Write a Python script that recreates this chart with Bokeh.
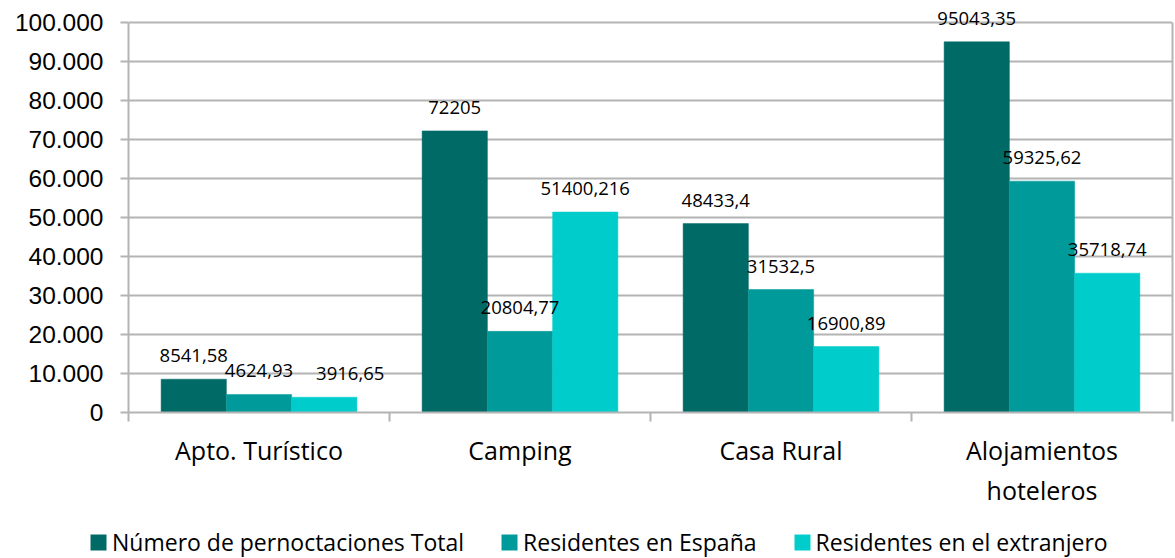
from bokeh.plotting import figure
from bokeh.models import (ColumnDataSource, FixedTicker, LabelSet, Legend,
                          LegendItem, Range1d, LinearAxis)
from bokeh.core.properties import value
from bokeh.embed import file_html
from bokeh.resources import INLINE

categories = ["Apto. Turístico", "Camping", "Casa Rural", "Alojamientos\nhoteleros"]
series_names = ["Número de pernoctaciones Total", "Residentes en España",
                "Residentes en el extranjero"]
total = [8541.58, 72205, 48433.4, 95043.35]
espana = [4624.93, 20804.77, 31532.5, 59325.62]
extranjero = [3916.65, 51400.216, 16900.89, 35718.74]
y_ticks = list(range(0, 100001, 10000))
y_max = 100000

colors = ["#006A66", "#009A9A", "#00CCCC"]
series_values = [total, espana, extranjero]
offsets = [-0.25, 0.0, 0.25]
# horizontal nudges (px) of data labels to avoid overlaps, as in the original
label_nudge = [[0, 0, 0, 0], [0, 0, 0, 0], [26, 0, 0, 0]]

GRID = "#B4B4B4"
W = 1174
FRAME_H = 412           # frame spans from page top to the zero line
PLOT_H = 390            # pixels between 0 and 100.000

p = figure(frame_width=1044, frame_height=FRAME_H, output_backend="svg",
           toolbar_location=None,
           x_range=Range1d(0, 4), y_range=Range1d(0, y_max * FRAME_H / PLOT_H),
           min_border_left=128, min_border_right=2, min_border_top=0,
           min_border_bottom=108)
p.outline_line_color = None
p.background_fill_color = "white"
p.border_fill_color = "white"

def fmt(v):
    return str(v).replace(".", ",")

renderers = []
for vals, col, off, nudge in zip(series_values, colors, offsets, label_nudge):
    xs = [i + 0.5 + off for i in range(len(categories))]
    src = ColumnDataSource(dict(x=xs, top=vals, text=[fmt(v) for v in vals], dx=nudge))
    r = p.vbar(x="x", top="top", bottom=0, width=0.25, source=src,
               fill_color=col, line_color=col, line_width=0.5)
    renderers.append(r)
    lab = LabelSet(x="x", y="top", text="text", source=src, text_align="center",
                   text_baseline="alphabetic", y_offset=17, x_offset="dx",
                   text_font=value("Open Sans"), text_font_size=value("18.5px"),
                   text_color="#000000")
    p.add_layout(lab)

# y axis
p.yaxis.ticker = FixedTicker(ticks=y_ticks)
p.yaxis.bounds = (0, y_max)
p.yaxis.major_label_overrides = {t: f"{t:,}".replace(",", ".") for t in y_ticks}
p.yaxis.major_label_text_font = "Liberation Sans"
p.yaxis.major_label_text_font_size = "24.5px"
p.yaxis.major_label_text_color = "#000000"
p.yaxis.major_label_standoff = 17
p.yaxis.major_tick_out = 8
p.yaxis.major_tick_in = 0
p.yaxis.minor_tick_out = 0
p.yaxis.minor_tick_in = 0
p.yaxis.axis_line_color = GRID
p.yaxis.axis_line_width = 2
p.yaxis.major_tick_line_color = GRID
p.yaxis.major_tick_line_width = 2

# right border line
right = LinearAxis(bounds=(0, y_max), ticker=FixedTicker(ticks=[]),
                   axis_line_color=GRID, axis_line_width=2,
                   major_tick_out=0, major_tick_in=0, minor_tick_out=0, minor_tick_in=0,
                   major_label_text_font_size="0px")
p.add_layout(right, "right")

p.ygrid.ticker = FixedTicker(ticks=y_ticks)
p.ygrid.grid_line_color = GRID
p.ygrid.grid_line_width = 2
p.xgrid.grid_line_color = None

# x axis
centers = [i + 0.5 for i in range(len(categories))]
bounds = [i for i in range(len(categories) + 1)]
p.xaxis.ticker = FixedTicker(ticks=centers, minor_ticks=bounds)
p.xaxis.major_label_overrides = {c: cat for c, cat in zip(centers, categories)}
p.xaxis.major_tick_out = 0
p.xaxis.major_tick_in = 0
p.xaxis.minor_tick_out = 9
p.xaxis.minor_tick_in = 0
p.xaxis.minor_tick_line_color = GRID
p.xaxis.minor_tick_line_width = 2
p.xaxis.axis_line_color = GRID
p.xaxis.axis_line_width = 2
p.xaxis.major_label_text_font = "Open Sans"
p.xaxis.major_label_text_font_size = "25px"
p.xaxis.major_label_text_color = "#000000"
p.xaxis.major_label_standoff = 11

# legend in its own strip (separate root, so its frame is not aligned with p)
lg = figure(width=W, height=38, output_backend="svg", toolbar_location=None,
            x_range=Range1d(0, 1), y_range=Range1d(0, 1),
            x_axis_location=None, y_axis_location=None,
            min_border=0)
lg.outline_line_color = None
lg.xgrid.grid_line_color = None
lg.ygrid.grid_line_color = None
# legend swatches only: zero-size bars placed outside the visible range
leg_renderers = [lg.vbar(x=[-5], top=[0], width=0.1, fill_color=c, line_alpha=0)
                 for c in colors]
legend = Legend(items=[LegendItem(label=n, renderers=[r])
                       for n, r in zip(series_names, leg_renderers)],
                orientation="horizontal", location=(88, 0),
                label_text_font="Open Sans", label_text_font_size="23px",
                label_text_color="#000000", glyph_width=20, glyph_height=20,
                label_standoff=4, spacing=35, border_line_color=None,
                background_fill_alpha=0, padding=0, margin=0)
lg.add_layout(legend)

open("out.html", "w").write(file_html([p, lg], INLINE))
